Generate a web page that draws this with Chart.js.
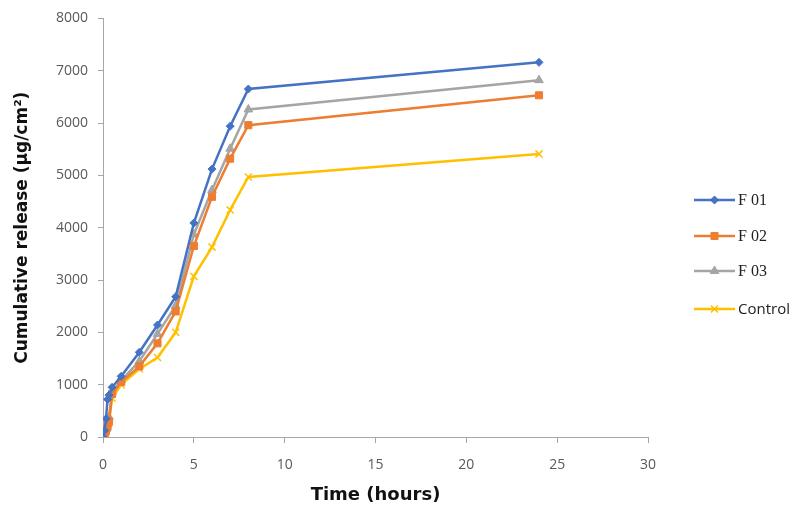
<!DOCTYPE html>
<html>
<head>
<meta charset="utf-8">
<script src="https://cdn.jsdelivr.net/npm/chart.js@4.4.1/dist/chart.umd.min.js"></script>
<style>
  html, body { margin: 0; padding: 0; background: #fff; }
  #wrap { width: 800px; height: 519px; }
</style>
</head>
<body>
<div id="wrap"><canvas id="releaseChart" width="800" height="519"></canvas></div>
<script>
/* values */
var hours = [0, 0.083, 0.167, 0.25, 0.33, 0.5, 1, 2, 3, 4, 5, 6, 7, 8, 24];
var f01 = [0, 120, 350, 720, 800, 950, 1160, 1620, 2140, 2680, 4090, 5120, 5940, 6650, 7160];
var f02 = [0, 50, 120, 200, 300, 820, 1050, 1350, 1790, 2400, 3650, 4590, 5320, 5960, 6530];
var f03 = [0, 60, 150, 250, 380, 860, 1080, 1450, 1970, 2510, 3870, 4720, 5510, 6260, 6820];
var control = [0, 40, 100, 180, 280, 740, 1000, 1300, 1520, 2000, 3070, 3630, 4340, 4970, 5410];
var seriesNames = ['F 01', 'F 02', 'F 03', 'Control'];
var xTicks = [0, 5, 10, 15, 20, 25, 30];
var yTicks = [0, 1000, 2000, 3000, 4000, 5000, 6000, 7000, 8000];

var colors = ['#4472C4', '#ED7D31', '#A5A5A5', '#FFC000'];
var markers = ['rectRot', 'rect', 'triangle', 'crossRot'];
var radii = [4, 5, 5, 5];

function toPoints(vals) {
    return vals.map(function(v, i) { return { x: hours[i], y: v }; });
}

var allSeries = [f01, f02, f03, control];
var datasets = allSeries.map(function(vals, i) {
    return {
        label: seriesNames[i],
        data: toPoints(vals),
        borderColor: colors[i],
        backgroundColor: colors[i],
        borderWidth: 2.5,
        pointStyle: markers[i],
        pointRadius: radii[i],
        pointBorderWidth: i == 3 ? 1.5 : 1,
        pointBorderColor: colors[i],
        pointBackgroundColor: colors[i],
        tension: 0,
        fill: false
    };
});

// legend drawn by hand: line sample with marker in the middle
var sideLegend = {
    id: 'sideLegend',
    afterDraw: function(chart) {
        var ctx = chart.ctx;
        var rows = [200, 236, 271, 309];
        chart.data.datasets.forEach(function(ds, i) {
            var y = rows[i];
            ctx.save();
            ctx.strokeStyle = ds.borderColor;
            ctx.lineWidth = 2.5;
            ctx.beginPath();
            ctx.moveTo(694, y);
            ctx.lineTo(735, y);
            ctx.stroke();
            ctx.fillStyle = ds.borderColor;
            ctx.lineWidth = ds.pointBorderWidth;
            Chart.helpers.drawPoint(ctx, {
                pointStyle: ds.pointStyle,
                radius: ds.pointRadius,
                borderWidth: ds.pointBorderWidth
            }, 714.5, y);
            ctx.restore();

            ctx.save();
            ctx.fillStyle = '#222';
            ctx.textBaseline = 'middle';
            if (i < 3) {
                ctx.font = '16px "Liberation Serif"';
            } else {
                ctx.font = '15px "Open Sans"';
            }
            ctx.fillText(ds.label, 738, y + 1);
            ctx.restore();
        });
    }
};

var ctx = document.getElementById('releaseChart').getContext('2d');
var releaseChart = new Chart(ctx, {
    type: 'line',
    data: { datasets: datasets },
    options: {
        responsive: false,
        animation: false,
        layout: { padding: { left: 0, top: 15, right: 152, bottom: 0 } },
        plugins: {
            legend: { display: false },
            tooltip: { enabled: false }
        },
        scales: {
            x: {
                type: 'linear',
                min: 0,
                max: 30,
                afterBuildTicks: function(scale) {
                    scale.ticks = xTicks.map(function(v) { return { value: v }; });
                },
                afterFit: function(scale) { scale.height = 82; },
                grid: {
                    drawOnChartArea: false,
                    drawTicks: true,
                    tickLength: 6,
                    color: '#a6a6a6'
                },
                border: { color: '#a6a6a6', width: 1 },
                ticks: {
                    color: '#595959',
                    font: { family: 'Open Sans', size: 14 },
                    padding: 14,
                    maxRotation: 0
                },
                title: {
                    display: true,
                    text: 'Time (hours)',
                    color: '#111',
                    font: { family: 'DejaVu Sans', size: 18, weight: 'bold' },
                    padding: { top: 4, bottom: 13 }
                }
            },
            y: {
                min: 0,
                max: 8000,
                afterBuildTicks: function(scale) {
                    scale.ticks = yTicks.map(function(v) { return { value: v }; });
                },
                afterFit: function(scale) { scale.width = 103; },
                grid: {
                    drawOnChartArea: false,
                    drawTicks: true,
                    tickLength: 5,
                    color: '#a6a6a6'
                },
                border: { color: '#a6a6a6', width: 1 },
                ticks: {
                    color: '#595959',
                    font: { family: 'Open Sans', size: 14 },
                    padding: 10,
                    callback: function(v) { return String(v); }
                },
                title: {
                    display: true,
                    text: 'Cumulative release (µg/cm²)',
                    color: '#111',
                    font: { family: 'DejaVu Sans', size: 17, weight: 'bold' },
                    padding: { top: 12, bottom: 4 }
                }
            }
        }
    },
    plugins: [sideLegend]
});
</script>
</body>
</html>
